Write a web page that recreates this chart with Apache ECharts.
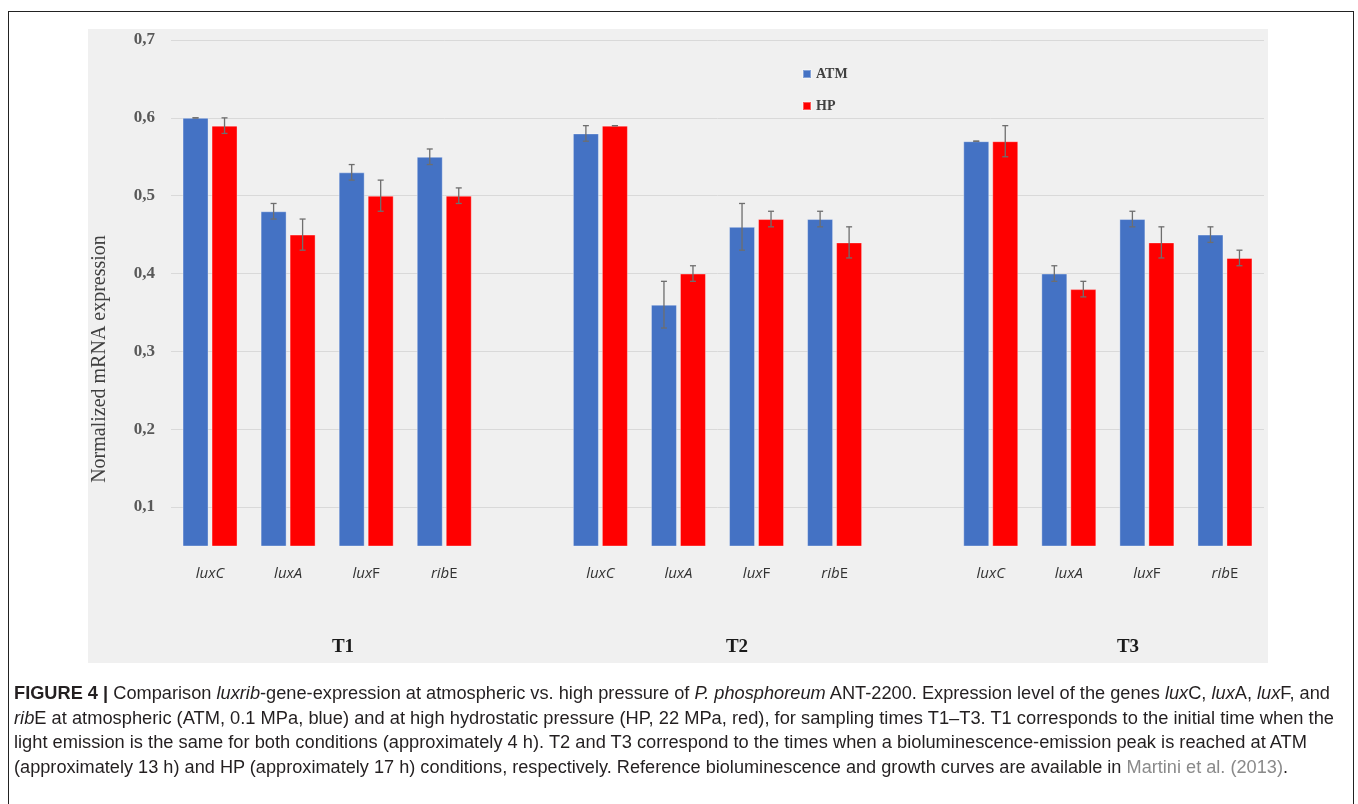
<!DOCTYPE html>
<html>
<head>
<meta charset="utf-8">
<script src="https://cdn.jsdelivr.net/npm/echarts@6/dist/echarts.min.js"></script>
<style>
  html, body { margin: 0; padding: 0; background: #fff; }
  body { width: 1358px; height: 804px; position: relative; overflow: hidden; }
  #frame { position: absolute; left: 8px; top: 11px; width: 1344px; height: 820px;
           border: 1px solid #222; }
  #panel { position: absolute; left: 88px; top: 29px; width: 1180px; height: 634px; background: #f0f0f0; }
  #chart { position: absolute; left: 0; top: 0; width: 1358px; height: 804px; }
  #caption { position: absolute; left: 14px; top: 681px; color: #231f20;
             font-family: "Liberation Sans", Arial, sans-serif;
             font-size: 17.5px; line-height: 24.7px; }
  #caption div { white-space: nowrap; transform-origin: 0 50%; }
  #caption span.line { display: inline-block; transform-origin: 0 50%; }
  #caption .ref { color: #8a8a8a; }
</style>
</head>
<body>
<div id="frame"></div>
<div id="panel"></div>
<div id="chart"></div>
<div id="caption">
  <div><span class="line"><b>FIGURE 4 |</b> Comparison <i>luxrib</i>-gene-expression at atmospheric vs. high pressure of <i>P. phosphoreum</i> ANT-2200. Expression level of the genes <i>lux</i>C, <i>lux</i>A, <i>lux</i>F, and</span></div>
  <div><span class="line"><i>rib</i>E at atmospheric (ATM, 0.1 MPa, blue) and at high hydrostatic pressure (HP, 22 MPa, red), for sampling times T1–T3. T1 corresponds to the initial time when the</span></div>
  <div><span class="line">light emission is the same for both conditions (approximately 4 h). T2 and T3 correspond to the times when a bioluminescence-emission peak is reached at ATM</span></div>
  <div><span class="line">(approximately 13 h) and HP (approximately 17 h) conditions, respectively. Reference bioluminescence and growth curves are available in <span class="ref">Martini et al. (2013)</span>.</span></div>
</div>
<script>
// genes per sampling time, one empty slot between groups
var genes = ['luxC', 'luxA', 'luxF', 'ribE'];
var times = ['T1', 'T2', 'T3'];

// normalized mRNA expression
var atmT1 = [0.60, 0.48, 0.53, 0.55];
var hpT1  = [0.59, 0.45, 0.50, 0.50];
var atmT2 = [0.58, 0.36, 0.46, 0.47];
var hpT2  = [0.59, 0.40, 0.47, 0.44];
var atmT3 = [0.57, 0.40, 0.47, 0.45];
var hpT3  = [0.57, 0.38, 0.44, 0.42];

// error bar half-lengths
var atmErrT1 = [0.00, 0.01, 0.01, 0.01];
var hpErrT1  = [0.01, 0.02, 0.02, 0.01];
var atmErrT2 = [0.01, 0.03, 0.03, 0.01];
var hpErrT2  = [0.00, 0.01, 0.01, 0.02];
var atmErrT3 = [0.00, 0.01, 0.01, 0.01];
var hpErrT3  = [0.02, 0.01, 0.02, 0.01];

function joinGroups(a, b, c) {
  return a.concat(['-'], b, ['-'], c);
}

var categories = joinGroups(genes, genes, genes).map(function (g) { return g === '-' ? '' : g; });
var atm = joinGroups(atmT1, atmT2, atmT3);
var hp = joinGroups(hpT1, hpT2, hpT3);
var atmErr = joinGroups(atmErrT1, atmErrT2, atmErrT3);
var hpErr = joinGroups(hpErrT1, hpErrT2, hpErrT3);

var BAR_W = 26;
var BAR_GAP = 3;
var offs = (BAR_W + BAR_GAP) / 2;

function errData(vals, errs) {
  var out = [];
  vals.forEach(function (v, i) {
    if (v !== '-') out.push([i, v - errs[i], v + errs[i]]);
  });
  return out;
}

function errSeries(name, vals, errs, dx) {
  return {
    name: name + ' err',
    type: 'custom',
    data: errData(vals, errs),
    z: 5,
    silent: true,
    renderItem: function (params, api) {
      var lo = api.coord([api.value(0), api.value(1)]);
      var hi = api.coord([api.value(0), api.value(2)]);
      var x = lo[0] + dx;
      var st = { stroke: '#6e6e6e', lineWidth: 1.3 };
      return {
        type: 'group',
        children: [
          { type: 'line', shape: { x1: x, y1: lo[1], x2: x, y2: hi[1] }, style: st },
          { type: 'line', shape: { x1: x - 3, y1: lo[1], x2: x + 3, y2: lo[1] }, style: st },
          { type: 'line', shape: { x1: x - 3, y1: hi[1], x2: x + 3, y2: hi[1] }, style: st }
        ]
      };
    }
  };
}

function geneLabel(g) {
  if (g === 'luxF') return '{i|lux}{n|F}';
  if (g === 'ribE') return '{i|rib}{n|E}';
  return g ? '{i|' + g + '}' : '';
}

var chart = echarts.init(document.getElementById('chart'));

var option = {
  backgroundColor: 'transparent',
  animation: false,
  legend: {
    orient: 'vertical',
    left: 797,
    top: 62,
    itemWidth: 8,
    itemHeight: 8,
    itemGap: 18,
    icon: 'rect',
    data: ['ATM', 'HP'],
    textStyle: { fontFamily: 'Liberation Serif', fontWeight: 'bold', fontSize: 14, color: '#404040' }
  },
  grid: { left: 171, right: 94, top: 40, bottom: 258 },
  xAxis: {
    type: 'category',
    data: categories,
    axisLine: { show: false },
    axisTick: { show: false },
    axisLabel: {
      interval: 0,
      margin: 20,
      formatter: geneLabel,
      rich: {
        i: { fontFamily: 'Open Sans', fontStyle: 'italic', fontSize: 15, color: '#333333' },
        n: { fontFamily: 'Open Sans', fontSize: 15, color: '#333333' }
      }
    }
  },
  yAxis: {
    type: 'value',
    min: 0.05,
    max: 0.7,
    splitNumber: 6,
    axisLine: { show: false },
    axisTick: { show: false },
    splitLine: { showMinLine: false, lineStyle: { color: '#d9d9d9', width: 1 } },
    axisLabel: {
      showMinLabel: false,
      margin: 16,
      fontFamily: 'Liberation Serif',
      fontWeight: 'bold',
      fontSize: 17,
      color: '#595959',
      formatter: function (v) { return v.toFixed(1).replace('.', ','); }
    }
  },
  series: [
    {
      name: 'ATM',
      type: 'bar',
      data: atm,
      barWidth: BAR_W,
      barGap: (BAR_GAP / BAR_W * 100) + '%',
      itemStyle: { color: '#4472c4', borderColor: 'rgba(255,255,255,0.35)', borderWidth: 1 }
    },
    {
      name: 'HP',
      type: 'bar',
      data: hp,
      barWidth: BAR_W,
      itemStyle: { color: '#ff0000', borderColor: 'rgba(255,255,255,0.35)', borderWidth: 1 }
    },
    errSeries('ATM', atm, atmErr, -offs),
    errSeries('HP', hp, hpErr, offs)
  ],
  graphic: [
    {
      type: 'text', x: 100, y: 359, rotation: Math.PI / 2,
      style: { text: 'Normalized mRNA expression', fontFamily: 'Liberation Serif', fontSize: 20,
               fill: '#404040', align: 'center', verticalAlign: 'middle' }
    },
    { type: 'text', x: 343, y: 647, style: { text: times[0], fontFamily: 'Liberation Serif', fontWeight: 'bold', fontSize: 19, fill: '#1a1a1a', align: 'center', verticalAlign: 'middle' } },
    { type: 'text', x: 737, y: 647, style: { text: times[1], fontFamily: 'Liberation Serif', fontWeight: 'bold', fontSize: 19, fill: '#1a1a1a', align: 'center', verticalAlign: 'middle' } },
    { type: 'text', x: 1128, y: 647, style: { text: times[2], fontFamily: 'Liberation Serif', fontWeight: 'bold', fontSize: 19, fill: '#1a1a1a', align: 'center', verticalAlign: 'middle' } }
  ]
};

chart.setOption(option);

// stretch each caption line to the width it has in the printed figure
var lineWidths = [1316, 1320, 1293, 1274];
document.querySelectorAll('#caption span.line').forEach(function (el, i) {
  var w = el.getBoundingClientRect().width;
  el.style.transform = 'scaleX(' + (lineWidths[i] / w) + ')';
});
</script>
</body>
</html>
